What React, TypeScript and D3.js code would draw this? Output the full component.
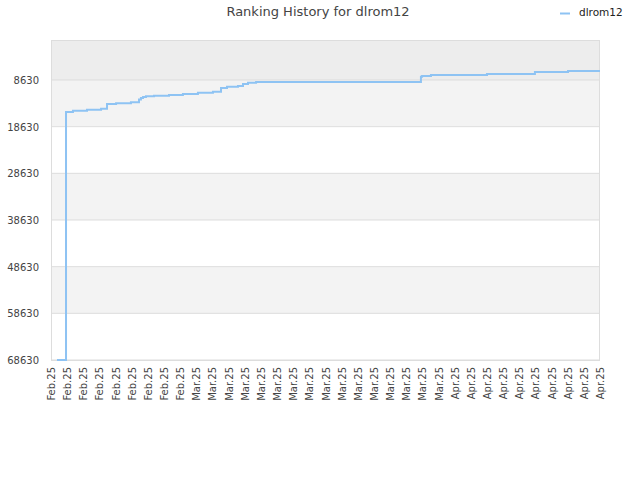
import * as d3 from "d3";
import { useEffect, useRef } from "react";

// step positions along the x axis (in tick units) and the rank held from there on
const positions = [0.37, 0.93, 1.36, 2.23, 3.1, 3.47, 4.03, 4.95, 5.45, 5.57, 5.7, 5.88, 6.38, 7.31, 8.17, 9.1, 10.03, 10.53, 10.9, 11.58, 11.89, 12.2, 12.7, 22.91, 22.98, 23.53, 27.0, 29.97, 32.02, 34];
const ranks = [68630, 15490, 15210, 15000, 14780, 13770, 13620, 13410, 12810, 12490, 12270, 12120, 12000, 11850, 11630, 11350, 11140, 10340, 10070, 9920, 9490, 9210, 9060, 7920, 7770, 7560, 7340, 6920, 6700, 6700];

const tickLabels = [
    ...Array(9).fill("Feb.25"),
    ...Array(16).fill("Mar.25"),
    ...Array(10).fill("Apr.25"),
];
const yTicks = [8630, 18630, 28630, 38630, 48630, 58630, 68630];
const yTop = 59;
const seriesName = "dlrom12";

const App = () => {
    const svgRef = useRef<SVGSVGElement | null>(null);

    useEffect(() => {
        const svg = d3.select(svgRef.current);
        const width = 640;
        const height = 480;
        const margin = { top: 40, right: 40, bottom: 120, left: 51 };
        const font = "DejaVu Sans, sans-serif";

        svg.selectAll("*").remove();

        const xScale = d3
            .scaleLinear()
            .domain([0, tickLabels.length - 1])
            .range([margin.left, width - margin.right]);

        const yScale = d3
            .scaleLinear()
            .domain([yTop, 68630])
            .range([margin.top, height - margin.bottom]);

        // Background bands
        const bandEdges = [yTop, ...yTicks];
        svg
            .append("g")
            .selectAll("rect")
            .data(d3.pairs(bandEdges))
            .join("rect")
            .attr("x", margin.left)
            .attr("width", width - margin.right - margin.left)
            .attr("y", (d) => yScale(d[0]))
            .attr("height", (d) => yScale(d[1]) - yScale(d[0]))
            .attr("fill", (_, i) => (i === 0 ? "#ededed" : i % 2 === 1 ? "#f3f3f3" : "#ffffff"));

        // Grid lines
        svg
            .append("g")
            .selectAll("line")
            .data(yTicks)
            .join("line")
            .attr("x1", margin.left)
            .attr("x2", width - margin.right)
            .attr("y1", (d) => yScale(d))
            .attr("y2", (d) => yScale(d))
            .attr("stroke", "#dddddd")
            .attr("stroke-width", 1);

        // Frame
        svg
            .append("rect")
            .attr("x", margin.left + 0.5)
            .attr("y", margin.top + 0.5)
            .attr("width", width - margin.right - margin.left - 1)
            .attr("height", height - margin.bottom - margin.top)
            .attr("fill", "none")
            .attr("stroke", "#dddddd");

        // Y axis labels
        svg
            .append("g")
            .selectAll("text")
            .data(yTicks)
            .join("text")
            .attr("x", margin.left - 12)
            .attr("y", (d) => yScale(d) + 4)
            .attr("text-anchor", "end")
            .attr("font-family", font)
            .attr("font-size", 10)
            .attr("fill", "#444")
            .text((d) => String(d));

        // X axis labels
        svg
            .append("g")
            .selectAll("text")
            .data(tickLabels)
            .join("text")
            .attr("transform", (_, i) => `translate(${xScale(i) + 4},${height - margin.bottom + 7}) rotate(-90)`)
            .attr("text-anchor", "end")
            .attr("font-family", font)
            .attr("font-size", 10)
            .attr("fill", "#444")
            .text((d) => d);

        // Step line
        const line = d3
            .line<number>()
            .x((_, i) => xScale(positions[i]))
            .y((d) => yScale(d))
            .curve(d3.curveStepAfter);

        svg
            .append("path")
            .datum(ranks)
            .attr("d", line)
            .attr("fill", "none")
            .attr("stroke", "#8ec3f3")
            .attr("stroke-width", 2);

        // Title
        svg
            .append("text")
            .attr("x", 318)
            .attr("y", 16)
            .attr("text-anchor", "middle")
            .attr("font-family", font)
            .attr("font-size", 13)
            .attr("fill", "#444")
            .text(`Ranking History for ${seriesName}`);

        // Legend
        svg
            .append("line")
            .attr("x1", 560)
            .attr("x2", 570)
            .attr("y1", 13.5)
            .attr("y2", 13.5)
            .attr("stroke", "#8ec3f3")
            .attr("stroke-width", 2);
        svg
            .append("text")
            .attr("x", 579)
            .attr("y", 16)
            .attr("font-family", font)
            .attr("font-size", 10.5)
            .attr("fill", "#222")
            .text(seriesName);
    }, []);

    return (
        <svg
            ref={svgRef}
            width={640}
            height={480}
            style={{ position: "absolute", left: 0, top: 0, background: "#fff" }}
        ></svg>
    );
};

export default App;
